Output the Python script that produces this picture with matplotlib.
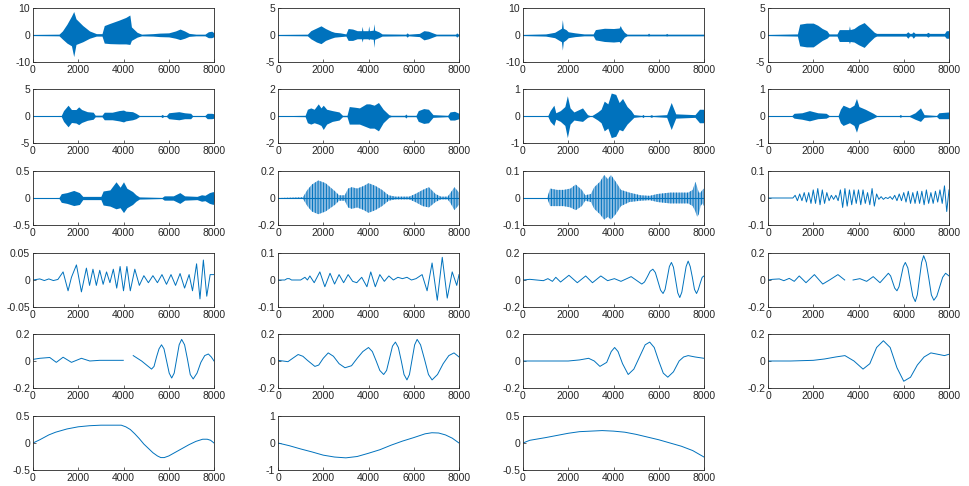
import numpy as np
import matplotlib
matplotlib.use('Agg')
import matplotlib.pyplot as plt

plt.rcParams['font.family'] = ['Liberation Sans', 'DejaVu Sans']
plt.rcParams['axes.unicode_minus'] = False
plt.rcParams['hatch.linewidth'] = 0.7

BLUE = '#0072BD'
nan = np.nan

# ---- noisy components: envelope (x, upper, lower) ----
x1 = [0, 1150, 1300, 1500, 1700, 1800, 1900, 2200, 2500, 2800, 3050, 3150, 3400, 3800, 4100, 4280,
      4350, 4600, 4800, 5300, 5600, 6000, 6300, 6500, 6700, 6900, 7200, 7600, 7750, 7900, 8000]
up1 = [0.2, 0.3, 1.5, 4.0, 7.0, 8.7, 6.0, 3.5, 1.5, 0.5, 0.5, 3.5, 4.3, 5.5, 6.5, 7.4,
       3.0, 1.0, 0.3, 0.5, 0.7, 0.8, 1.5, 2.2, 1.5, 0.6, 0.3, 0.3, 1.2, 1.4, 0.8]
lo1 = [-0.2, -0.3, -1.5, -3.0, -4.0, -8.0, -3.5, -2.5, -1.2, -0.4, -0.4, -3.0, -3.2, -3.3, -3.3, -3.5,
       -2.0, -0.8, -0.3, -0.4, -0.6, -0.7, -1.2, -1.7, -1.2, -0.5, -0.3, -0.3, -1.0, -1.0, -0.6]

x2 = [0, 1300, 1450, 1700, 1900, 2100, 2350, 2500, 2750, 3000, 3100, 3300, 3500, 3690, 3720, 3750,
      3980, 4010, 4040, 4210, 4240, 4270, 4450, 4600, 5650, 5710, 5770, 6250, 6450, 6650, 6900, 7000,
      7850, 7900, 7950, 8000]
up2 = [0.1, 0.15, 0.8, 1.3, 1.7, 1.2, 0.7, 0.5, 0.4, 0.2, 1.2, 1.1, 0.8, 0.8, 1.6, 0.8,
       0.8, 1.7, 0.8, 0.9, 2.1, 0.9, 0.6, 0.2, 0.15, 0.4, 0.15, 0.3, 0.8, 0.7, 0.3, 0.15,
       0.15, 0.4, 0.2, 0.2]
lo2 = [-0.1, -0.15, -0.7, -1.3, -1.6, -1.0, -0.6, -0.4, -0.3, -0.2, -1.0, -1.0, -0.7, -0.7, -1.3, -0.7,
       -0.7, -0.9, -0.7, -0.8, -2.3, -0.8, -0.5, -0.2, -0.15, -0.4, -0.15, -0.3, -0.9, -0.7, -0.3, -0.15,
       -0.15, -0.4, -0.2, -0.2]

x3 = [0, 1000, 1400, 1600, 1700, 1740, 1780, 1900, 2000, 2300, 2700, 3100, 3200, 3600, 4000, 4250,
      4300, 4350, 4480, 4600, 5500, 5550, 5600, 6300, 6350, 6400, 8000]
up3 = [0.2, 0.4, 1.0, 2.0, 2.5, 5.7, 2.5, 2.0, 1.2, 0.8, 0.4, 0.4, 2.0, 2.5, 2.4, 2.6,
       3.5, 2.5, 1.0, 0.3, 0.3, 0.7, 0.3, 0.3, 0.6, 0.3, 0.3]
lo3 = [-0.2, -0.4, -1.0, -2.0, -2.5, -5.6, -2.5, -1.8, -1.0, -0.6, -0.3, -0.3, -1.8, -2.4, -2.6, -2.4,
       -3.0, -2.2, -0.8, -0.3, -0.3, -0.4, -0.3, -0.3, -0.4, -0.3, -0.3]

x4 = [0, 1300, 1400, 1700, 2000, 2200, 2400, 2600, 2700, 3050, 3150, 3400, 3570, 3600, 3630, 3800,
      4000, 4250, 4450, 4700, 4800, 6100, 6180, 6260, 6350, 6420, 6500, 7000, 7070, 7140, 7800, 7880, 8000]
up4 = [0.1, 0.2, 2.0, 2.2, 2.2, 1.8, 1.2, 0.8, 0.2, 0.2, 1.0, 1.0, 1.0, 1.7, 1.0, 1.2,
       1.8, 2.3, 1.5, 0.5, 0.3, 0.3, 0.6, 0.3, 0.3, 0.6, 0.3, 0.3, 0.5, 0.3, 0.3, 0.8, 0.8]
lo4 = [-0.1, -0.2, -2.0, -2.2, -2.2, -1.6, -1.0, -0.6, -0.2, -0.2, -1.2, -1.2, -1.2, -1.6, -1.2, -1.3,
       -1.8, -2.3, -1.4, -0.4, -0.2, -0.2, -0.6, -0.2, -0.2, -0.6, -0.2, -0.2, -0.4, -0.2, -0.2, -0.6, -0.6]

x5 = [0, 1250, 1350, 1550, 1700, 1900, 2020, 2150, 2400, 2660, 2750, 3050, 3150, 3500, 3800, 4000,
      4100, 4400, 4550, 4700, 5650, 5710, 5770, 5900, 6000, 6450, 6700, 6970, 7050, 7600, 7700, 7900, 8000]
up5 = [0.05, 0.1, 1.0, 2.0, 1.2, 1.2, 1.7, 1.2, 0.8, 0.7, 0.15, 0.15, 0.7, 0.7, 1.0, 1.1,
       0.9, 0.8, 0.5, 0.1, 0.1, 0.3, 0.1, 0.1, 0.6, 0.8, 0.6, 0.5, 0.1, 0.1, 0.5, 0.5, 0.4]
lo5 = [-0.05, -0.1, -1.0, -2.0, -1.2, -1.3, -1.6, -1.2, -0.8, -0.6, -0.15, -0.15, -0.7, -0.7, -0.9, -1.1,
       -0.9, -0.7, -0.5, -0.1, -0.1, -0.3, -0.1, -0.1, -0.5, -0.7, -0.5, -0.5, -0.1, -0.1, -0.5, -0.5, -0.4]

x6 = [0, 1200, 1300, 1450, 1600, 1780, 1900, 2000, 2150, 2400, 2700, 2850, 3050, 3150, 3400, 3600,
      3900, 4050, 4250, 4440, 4650, 4900, 5000, 5600, 5650, 5700, 6100, 6200, 6440, 6650, 6850, 7500,
      7600, 7800, 8000]
up6 = [0.02, 0.05, 0.5, 0.6, 0.5, 0.9, 0.6, 0.8, 0.5, 0.4, 0.3, 0.05, 0.05, 0.7, 0.65, 0.6,
       0.9, 0.9, 0.8, 1.0, 0.5, 0.1, 0.05, 0.05, 0.15, 0.05, 0.05, 0.4, 0.55, 0.5, 0.1, 0.05,
       0.3, 0.35, 0.2]
lo6 = [-0.02, -0.05, -0.5, -0.6, -0.5, -0.6, -0.7, -1.0, -0.6, -0.4, -0.3, -0.05, -0.05, -0.6, -0.6, -0.6,
       -0.8, -0.9, -0.9, -1.1, -0.5, -0.1, -0.05, -0.05, -0.15, -0.05, -0.05, -0.4, -0.55, -0.5, -0.1, -0.05,
       -0.3, -0.3, -0.2]

x7 = [0, 1100, 1200, 1365, 1450, 1650, 1850, 1960, 2080, 2250, 2630, 2850, 2950, 3050, 3300, 3450,
      3590, 3750, 3900, 4100, 4250, 4400, 4600, 4780, 4900, 5250, 5300, 5350, 5600, 5670, 5740, 6350,
      6550, 6750, 7600, 7800, 7970, 8000]
up7 = [0.01, 0.02, 0.2, 0.4, 0.12, 0.2, 0.35, 0.75, 0.3, 0.15, 0.3, 0.05, 0.02, 0.02, 0.15, 0.25,
       0.55, 0.45, 0.85, 0.8, 0.5, 0.65, 0.35, 0.2, 0.05, 0.02, 0.06, 0.02, 0.02, 0.05, 0.02, 0.05,
       0.5, 0.08, 0.05, 0.25, 0.25, 0.2]
lo7 = [-0.01, -0.02, -0.2, -0.35, -0.12, -0.2, -0.35, -0.8, -0.3, -0.15, -0.2, -0.05, -0.02, -0.02, -0.15, -0.25,
       -0.55, -0.45, -0.8, -0.75, -0.5, -0.55, -0.3, -0.15, -0.05, -0.02, -0.06, -0.02, -0.02, -0.05, -0.02, -0.05,
       -0.5, -0.08, -0.05, -0.25, -0.25, -0.2]

x8 = [0, 1050, 1150, 1500, 1830, 2200, 2570, 2700, 3100, 3200, 3320, 3600, 3800, 3910, 4020, 4300,
      4650, 4800, 5800, 5850, 5900, 6250, 6500, 6740, 6900, 7450, 7550, 8000]
up8 = [0.01, 0.01, 0.1, 0.12, 0.2, 0.12, 0.1, 0.02, 0.02, 0.25, 0.4, 0.3, 0.4, 0.65, 0.35, 0.25,
       0.1, 0.02, 0.02, 0.06, 0.02, 0.02, 0.12, 0.3, 0.05, 0.02, 0.12, 0.15]
lo8 = [-0.01, -0.01, -0.08, -0.12, -0.18, -0.1, -0.08, -0.02, -0.02, -0.25, -0.35, -0.25, -0.35, -0.6, -0.3, -0.2,
       -0.08, -0.02, -0.02, -0.05, -0.02, -0.02, -0.12, -0.2, -0.05, -0.02, -0.1, -0.1]

x9 = [0, 1150, 1250, 1500, 1800, 2050, 2200, 2400, 2800, 3000, 3100, 3400, 3670, 3850, 4000, 4150,
      4400, 4550, 4700, 5700, 5800, 6200, 6490, 6700, 7250, 7450, 7600, 7800, 7970, 8000]
up9 = [0.005, 0.01, 0.08, 0.1, 0.14, 0.1, 0.03, 0.03, 0.03, 0.03, 0.13, 0.15, 0.3, 0.2, 0.3, 0.18,
       0.12, 0.06, 0.02, 0.01, 0.04, 0.04, 0.1, 0.04, 0.03, 0.06, 0.05, 0.1, 0.12, 0.05]
lo9 = [-0.005, -0.01, -0.08, -0.1, -0.14, -0.12, -0.03, -0.03, -0.03, -0.03, -0.13, -0.15, -0.2, -0.18, -0.27, -0.18,
       -0.12, -0.06, -0.02, -0.01, -0.04, -0.04, -0.1, -0.04, -0.03, -0.06, -0.05, -0.1, -0.12, -0.05]

x10 = [0, 1100, 1300, 1500, 1780, 2100, 2520, 2700, 2950, 3100, 3260, 3500, 3800, 4000, 4300, 4600,
       4890, 5200, 5800, 6070, 6400, 6670, 6960, 7200, 7500, 7630, 7800, 8000]
up10 = [0.0, 0.005, 0.06, 0.1, 0.13, 0.11, 0.05, 0.02, 0.02, 0.07, 0.08, 0.07, 0.09, 0.11, 0.09, 0.06,
        0.02, 0.01, 0.01, 0.03, 0.06, 0.08, 0.03, 0.01, 0.01, 0.04, 0.08, 0.04]
lo10 = [0.0, -0.005, -0.06, -0.1, -0.12, -0.1, -0.05, -0.02, -0.02, -0.07, -0.08, -0.07, -0.09, -0.11, -0.09, -0.06,
        -0.02, -0.01, -0.01, -0.03, -0.06, -0.07, -0.03, -0.01, -0.01, -0.04, -0.09, -0.05]

x11 = [0, 1070, 1200, 1500, 1800, 2100, 2330, 2600, 2750, 3000, 3150, 3400, 3590, 3750, 3890, 4100,
       4330, 4700, 5200, 5600, 5960, 6500, 7000, 7300, 7500, 7620, 7700, 7770, 7850, 7930, 8000]
up11 = [0.0, 0.0, 0.035, 0.03, 0.03, 0.035, 0.05, 0.03, 0.01, 0.015, 0.04, 0.06, 0.085, 0.07, 0.085, 0.06,
        0.03, 0.02, 0.01, 0.008, 0.015, 0.02, 0.02, 0.02, 0.03, 0.06, 0.04, 0.02, 0.02, 0.03, 0.035]
lo11 = [0.0, 0.0, -0.03, -0.03, -0.03, -0.035, -0.045, -0.03, -0.01, -0.015, -0.04, -0.06, -0.08, -0.07, -0.08, -0.06,
        -0.03, -0.015, -0.01, -0.008, -0.015, -0.02, -0.02, -0.02, -0.03, -0.05, -0.07, -0.06, -0.03, -0.02, -0.03]

# ---- oscillating components: line (x, y) ----
x12 = [0] + list(range(1100, 8001, 100))
y12 = [0, 0,
       0.01, -0.01, 0.015, -0.01, 0.02, -0.015, 0.02, -0.02, 0.03, -0.02,
       0.035, -0.025, 0.03, -0.02, 0.02, -0.01, 0.01, -0.005, 0.01, -0.01,
       0.03, -0.035, 0.035, -0.03, 0.03, -0.025, 0.03, -0.02, 0.03, -0.025,
       0.03, -0.02, 0.02, -0.025, 0.035, -0.03, 0.015, -0.005, 0.005, -0.005,
       0.002, -0.002, 0.005, -0.005, 0.01, -0.01, 0.015, -0.01, 0.02, -0.015,
       0.025, -0.02, 0.02, -0.02, 0.025, -0.02, 0.025, -0.025, 0.03, -0.02,
       0.02, -0.02, 0.025, -0.015, 0.03, -0.02, 0.045, -0.05, 0.03]

x13 = [0, 300, 500, 700, 900, 1100, 1330, 1550, 1700, 1920, 2140, 2360, 2500, 2650, 2800, 2950,
       3100, 3250, 3400, 3550, 3700, 3850, 4000, 4150, 4300, 4500, 4700, 4900, 5100, 5300, 5500,
       5700, 5900, 6100, 6300, 6500, 6700, 6900, 7050, 7230, 7380, 7530, 7680, 7830, 8000]
y13 = [0, 0.002, -0.001, 0.002, -0.001, 0.001, 0.015, -0.02, 0.005, 0.028, -0.022, 0.022, -0.01, 0.02, -0.01, 0.018,
       -0.008, 0.015, -0.005, 0.02, -0.015, 0.025, -0.02, 0.025, -0.02, 0.02, -0.01, 0.008, -0.005, 0.008, -0.005,
       0.01, -0.008, 0.01, -0.01, 0.012, -0.015, 0.01, -0.02, 0.03, -0.035, 0.037, -0.03, 0.01, 0.01]

x14 = [0, 300, 400, 500, 600, 1000, 1190, 1300, 1410, 1600, 1850, 2070, 2300, 2500, 2700, 2900,
       3100, 3300, 3480, 3700, 3930, 4100, 4300, 4500, 4700, 4900, 5100, 5300, 5500, 5700, 5900,
       6100, 6370, 6590, 6810, 7040, 7260, 7480, 7700, 7900, 8000]
y14 = [0, 0, 0.005, 0.005, 0, 0, 0.01, 0.0, 0.015, -0.01, 0.03, -0.025, 0.025, -0.015, 0.02, -0.01,
       0.02, -0.005, -0.01, 0.01, -0.025, 0.03, -0.025, 0.02, -0.005, 0.015, 0.0, 0.01, 0.005, 0.01, 0.0,
       0.005, 0.02, -0.04, 0.063, -0.075, 0.084, -0.067, 0.03, -0.02, 0.02]

x15 = [0, 300, 600, 900, 1100, 1300, 1450, 1660, 2030, 2400, 2770, 3070, 3440, 3740, 4040, 4330,
       4780, 5250, 5370, 5500, 5620, 5740, 5850, 5965, 6080, 6190, 6280, 6375, 6470, 6560, 6650,
       6745, 6840, 6930, 7020, 7115, 7210, 7300, 7390, 7485, 7580, 7670, 7750, 7840, 7920, 8000]
y15 = [0, 0.005, 0.0, -0.005, 0.01, -0.01, 0.02, -0.015, 0.035, -0.02, 0.03, -0.02, 0.03, -0.005, 0.01, -0.01,
       0.025, -0.03, -0.015, 0.025, 0.065, 0.08, 0.055, -0.01, -0.075, -0.1, -0.07, 0.015, 0.1, 0.13, 0.095,
       0.0, -0.095, -0.13, -0.09, 0.005, 0.1, 0.14, 0.1, 0.02, -0.07, -0.1, -0.07, -0.02, 0.02, 0.03]

x16 = [0, 200, 500, 700, 940, 1160, 1380, 1680, 2050, 2420, 2720, 3090, 3390, 3550, 3760, 4060,
       4360, 4650, 4950, 5320, 5420, 5510, 5600, 5700, 5790, 5885, 5980, 6070, 6180, 6290, 6400,
       6510, 6600, 6695, 6790, 6880, 6990, 7105, 7220, 7330, 7460, 7590, 7720, 7850, 8000]
y16 = [0, 0.005, 0.008, -0.005, 0.012, -0.01, 0.03, -0.02, 0.04, -0.03, 0.0, 0.04, 0.0, nan, 0.0, 0.01,
       -0.01, 0.025, -0.02, 0.05, 0.03, -0.015, -0.06, -0.08, -0.05, 0.025, 0.1, 0.13, 0.09, -0.015, -0.12,
       -0.16, -0.11, 0.01, 0.13, 0.18, 0.13, 0.015, -0.11, -0.15, -0.12, -0.05, 0.02, 0.05, 0.03]

x17 = [0, 300, 740, 1030, 1330, 1700, 2140, 2510, 2950, 3500, 3990, 4150, 4430, 4800, 5240, 5350,
       5460, 5570, 5680, 5790, 5905, 6020, 6130, 6240, 6350, 6460, 6570, 6700, 6825, 6950, 7080,
       7250, 7420, 7590, 7750, 7880, 8000]
y17 = [0.012, 0.02, 0.026, -0.01, 0.028, -0.01, 0.02, 0.0, 0.005, 0.005, 0.005, nan, 0.04, 0.0, -0.06, -0.04,
       0.03, 0.09, 0.12, 0.09, 0.0, -0.09, -0.126, -0.09, 0.015, 0.12, 0.16, 0.12, 0.015, -0.1, -0.133,
       -0.09, -0.01, 0.04, 0.052, 0.03, 0.0]

x18 = [0, 440, 650, 890, 1100, 1300, 1630, 1800, 2000, 2220, 2450, 2700, 2960, 3250, 3500, 3750,
       4000, 4170, 4340, 4500, 4670, 4800, 4930, 5060, 5190, 5320, 5450, 5570, 5700, 5810, 5925,
       6040, 6150, 6300, 6480, 6650, 6810, 7050, 7300, 7550, 7780, 8000]
y18 = [0.005, -0.005, 0.02, 0.048, 0.035, 0.005, -0.04, -0.03, 0.02, 0.06, 0.035, -0.02, -0.05, -0.035, 0.02, 0.07,
       0.1, 0.07, 0.0, -0.07, -0.1, -0.07, 0.02, 0.11, 0.14, 0.1, 0.0, -0.1, -0.14, -0.1, 0.01,
       0.12, 0.16, 0.12, 0.01, -0.1, -0.14, -0.1, -0.02, 0.04, 0.06, 0.03]

x19 = [0, 1000, 2000, 2500, 2900, 3150, 3400, 3700, 3900, 4050, 4200, 4400, 4650, 4900, 5150, 5400,
       5600, 5800, 6000, 6200, 6400, 6650, 6900, 7100, 7300, 7600, 8000]
y19 = [0, 0, 0.0, 0.008, 0.02, 0.0, -0.04, -0.01, 0.07, 0.1, 0.07, -0.02, -0.1, -0.06, 0.03, 0.12,
       0.14, 0.1, 0.0, -0.09, -0.12, -0.08, 0.0, 0.03, 0.04, 0.03, 0.02]

x20 = [0, 1000, 2000, 2500, 3000, 3400, 3800, 4200, 4500, 4800, 5100, 5400, 5700, 6000, 6300, 6600,
       6900, 7200, 7500, 7800, 8000]
y20 = [0, 0.0, 0.005, 0.015, 0.03, 0.04, 0.0, -0.06, -0.02, 0.1, 0.15, 0.1, -0.05, -0.15, -0.12, -0.03,
       0.03, 0.06, 0.05, 0.04, 0.05]

x21 = [0, 300, 700, 1000, 1500, 2000, 2500, 3000, 3500, 3900, 4100, 4300, 4500, 4700, 4900, 5100,
       5300, 5500, 5650, 5800, 6000, 6300, 6600, 6900, 7200, 7500, 7700, 7850, 8000]
y21 = [0, 0.06, 0.15, 0.2, 0.26, 0.3, 0.32, 0.33, 0.33, 0.33, 0.3, 0.25, 0.17, 0.08, -0.02, -0.1,
       -0.18, -0.24, -0.27, -0.27, -0.24, -0.17, -0.1, -0.03, 0.03, 0.07, 0.07, 0.05, 0.0]

x22 = [0, 500, 1000, 1500, 2000, 2500, 3000, 3500, 4000, 4500, 5000, 5500, 6000, 6500, 6800, 7100,
       7400, 7700, 8000]
y22 = [0, -0.1, -0.22, -0.33, -0.45, -0.52, -0.55, -0.5, -0.38, -0.25, -0.08, 0.07, 0.2, 0.34, 0.38, 0.37,
       0.3, 0.18, 0.0]

x23 = [0, 300, 1000, 1500, 2000, 2500, 3000, 3500, 4000, 4500, 5000, 5500, 6000, 6500, 7000, 7500, 8000]
y23 = [0, 0.05, 0.1, 0.14, 0.18, 0.21, 0.22, 0.23, 0.22, 0.2, 0.16, 0.11, 0.06, 0.0, -0.06, -0.14, -0.26]

# y limits per panel (symmetric)
ylims = [10, 5, 10, 5, 5, 2, 1, 1, 0.5, 0.2, 0.1, 0.1,
         0.05, 0.1, 0.2, 0.2, 0.2, 0.2, 0.2, 0.2, 0.5, 1, 0.5]
xticks = [0, 2000, 4000, 6000, 8000]

envs = [(x1, up1, lo1), (x2, up2, lo2), (x3, up3, lo3), (x4, up4, lo4), (x5, up5, lo5),
        (x6, up6, lo6), (x7, up7, lo7), (x8, up8, lo8), (x9, up9, lo9),
        (x10, up10, lo10), (x11, up11, lo11)]
lines = [(x12, y12), (x13, y13), (x14, y14), (x15, y15), (x16, y16), (x17, y17),
         (x18, y18), (x19, y19), (x20, y20), (x21, y21), (x22, y22), (x23, y23)]

fig = plt.figure(figsize=(9.69, 4.86), dpi=100)
W, H = 969, 486
col_left = [33, 278, 523, 768]
row_top = [8, 89, 171, 253, 334, 416]
aw, ah = 181, 54

for i in range(23):
    r, c = divmod(i, 4)
    ax = fig.add_axes([col_left[c] / W, 1 - (row_top[r] + ah) / H, aw / W, ah / H])
    lim = ylims[i]
    if i < len(envs):
        x, up, lo = envs[i]
        if i >= 9:
            # striped look of the lower-frequency detail bands
            ax.fill_between(x, lo, up, facecolor='#8dbde3', edgecolor=BLUE,
                            hatch='||||||', lw=0)
        else:
            ax.fill_between(x, lo, up, color=BLUE, lw=0)
        ax.plot([0, 8000], [0, 0], color=BLUE, lw=0.8)
    else:
        x, y = lines[i - len(envs)]
        ax.plot(x, y, color=BLUE, lw=0.7)
    ax.set_xlim(0, 8000)
    ax.set_ylim(-lim, lim)
    ax.set_xticks(xticks)
    ax.set_yticks([-lim, 0, lim])
    ax.set_yticklabels(['%g' % -lim, '0', '%g' % lim])
    ax.tick_params(direction='in', length=2.5, width=0.5, labelsize=7.5, colors='#262626', pad=2)
    for s in ax.spines.values():
        s.set_linewidth(0.6)
        s.set_color('#262626')

fig.savefig('out.png', dpi=100)
